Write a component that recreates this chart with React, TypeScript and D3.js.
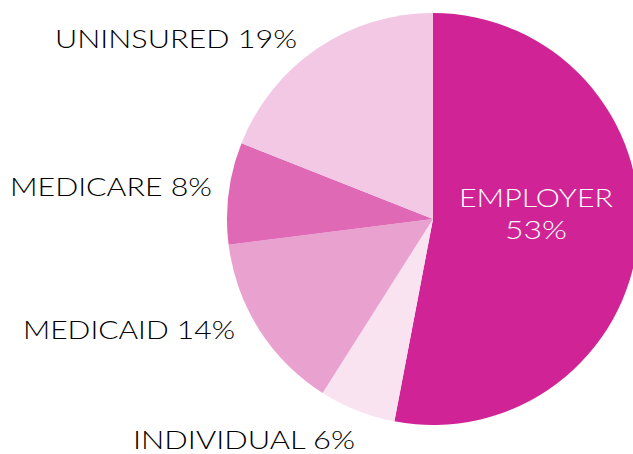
import React from "react";
import * as d3 from "d3";

const categories = ["EMPLOYER", "INDIVIDUAL", "MEDICAID", "MEDICARE", "UNINSURED"];
const values = [53, 6, 14, 8, 19];
const colors = ["#d02395", "#fae3f0", "#e9a1d0", "#df69b5", "#f2c8e4"];

const W = 633, H = 454;
const cx = 433, cy = 219, R = 206;

// label layout: left x, baseline y, text width
const labelLayout: Record<string, { x: number; y: number; w: number }> = {
  UNINSURED: { x: 55, y: 48, w: 242 },
  MEDICARE: { x: 10, y: 196, w: 202 },
  MEDICAID: { x: 23, y: 339, w: 212 },
  INDIVIDUAL: { x: 133, y: 449, w: 222 },
};

export default function App() {
  const data = categories.map((c, i) => ({ c, v: values[i], col: colors[i] }));
  const pie = d3.pie<any>().value((d) => d.v).sort(null);
  const arcs = pie(data);
  const arc = d3.arc<any>().innerRadius(0).outerRadius(R);
  const font = "Lato, 'Open Sans', sans-serif";
  return (
    <svg width={W} height={H} style={{ position: "absolute", left: 0, top: 0 }}>
      <rect width={W} height={H} fill="#fff" />
      <g transform={`translate(${cx},${cy})`}>
        {arcs.map((a, i) => (
          <path key={i} d={arc(a) as string} fill={a.data.col} />
        ))}
      </g>
      {arcs.map((a, i) => {
        const l = labelLayout[a.data.c];
        if (!l) return null;
        return (
          <text key={i} x={l.x} y={l.y} fontFamily={font} fontWeight={300} fontSize={26} fill="#000"
            textLength={l.w} lengthAdjust="spacingAndGlyphs">
            {`${a.data.c} ${a.data.v}%`}
          </text>
        );
      })}
      <text x={536} y={207} textAnchor="middle" fontFamily={font} fontWeight={300} fontSize={26} fill="#fff"
        textLength={154} lengthAdjust="spacingAndGlyphs">{categories[0]}</text>
      <text x={536} y={239} textAnchor="middle" fontFamily={font} fontWeight={300} fontSize={26} fill="#fff"
        textLength={62} lengthAdjust="spacingAndGlyphs">{`${values[0]}%`}</text>
    </svg>
  );
}
